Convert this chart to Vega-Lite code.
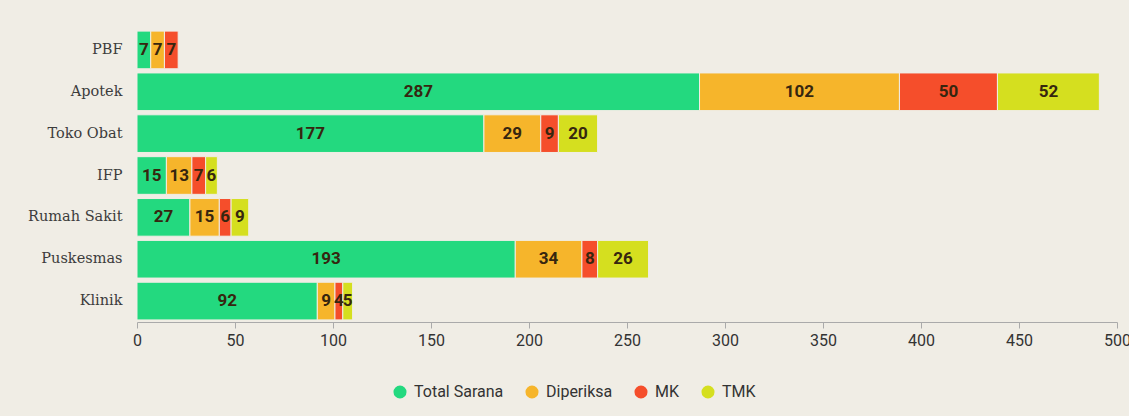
{
  "$schema": "https://vega.github.io/schema/vega-lite/v6.json",
  "width": 980,
  "height": 293,
  "autosize": "none",
  "padding": {"left": 137, "top": 29, "right": 12, "bottom": 94},
  "background": "#f0ede5",
  "config": {"view": {"stroke": null}},
  "data": {
    "values": [
      {"sarana": "PBF", "kategori": "Total Sarana", "ord": 1, "jumlah": 7},
      {"sarana": "PBF", "kategori": "Diperiksa", "ord": 2, "jumlah": 7},
      {"sarana": "PBF", "kategori": "MK", "ord": 3, "jumlah": 7},
      {"sarana": "Apotek", "kategori": "Total Sarana", "ord": 1, "jumlah": 287},
      {"sarana": "Apotek", "kategori": "Diperiksa", "ord": 2, "jumlah": 102},
      {"sarana": "Apotek", "kategori": "MK", "ord": 3, "jumlah": 50},
      {"sarana": "Apotek", "kategori": "TMK", "ord": 4, "jumlah": 52},
      {"sarana": "Toko Obat", "kategori": "Total Sarana", "ord": 1, "jumlah": 177},
      {"sarana": "Toko Obat", "kategori": "Diperiksa", "ord": 2, "jumlah": 29},
      {"sarana": "Toko Obat", "kategori": "MK", "ord": 3, "jumlah": 9},
      {"sarana": "Toko Obat", "kategori": "TMK", "ord": 4, "jumlah": 20},
      {"sarana": "IFP", "kategori": "Total Sarana", "ord": 1, "jumlah": 15},
      {"sarana": "IFP", "kategori": "Diperiksa", "ord": 2, "jumlah": 13},
      {"sarana": "IFP", "kategori": "MK", "ord": 3, "jumlah": 7},
      {"sarana": "IFP", "kategori": "TMK", "ord": 4, "jumlah": 6},
      {"sarana": "Rumah Sakit", "kategori": "Total Sarana", "ord": 1, "jumlah": 27},
      {"sarana": "Rumah Sakit", "kategori": "Diperiksa", "ord": 2, "jumlah": 15},
      {"sarana": "Rumah Sakit", "kategori": "MK", "ord": 3, "jumlah": 6},
      {"sarana": "Rumah Sakit", "kategori": "TMK", "ord": 4, "jumlah": 9},
      {"sarana": "Puskesmas", "kategori": "Total Sarana", "ord": 1, "jumlah": 193},
      {"sarana": "Puskesmas", "kategori": "Diperiksa", "ord": 2, "jumlah": 34},
      {"sarana": "Puskesmas", "kategori": "MK", "ord": 3, "jumlah": 8},
      {"sarana": "Puskesmas", "kategori": "TMK", "ord": 4, "jumlah": 26},
      {"sarana": "Klinik", "kategori": "Total Sarana", "ord": 1, "jumlah": 92},
      {"sarana": "Klinik", "kategori": "Diperiksa", "ord": 2, "jumlah": 9},
      {"sarana": "Klinik", "kategori": "MK", "ord": 3, "jumlah": 4},
      {"sarana": "Klinik", "kategori": "TMK", "ord": 4, "jumlah": 5}
    ]
  },
  "transform": [
    {"stack": "jumlah", "groupby": ["sarana"], "sort": [{"field": "ord", "order": "ascending"}], "as": ["x0", "x1"]},
    {"calculate": "(datum.x0 + datum.x1) / 2", "as": "xmid"}
  ],
  "encoding": {
    "y": {
      "field": "sarana",
      "type": "nominal",
      "sort": ["PBF", "Apotek", "Toko Obat", "IFP", "Rumah Sakit", "Puskesmas", "Klinik"],
      "scale": {"paddingInner": 0.1, "paddingOuter": 0.05},
      "axis": {
        "title": null,
        "domain": false,
        "ticks": false,
        "labelPadding": 15,
        "labelFont": "DejaVu Serif",
        "labelFontSize": 14.5,
        "labelColor": "#3c3c3c"
      }
    }
  },
  "layer": [
    {
      "mark": {"type": "bar", "stroke": "#f0ede5", "strokeWidth": 1},
      "encoding": {
        "x": {
          "field": "x0",
          "type": "quantitative",
          "scale": {"domain": [0, 500], "nice": false},
          "axis": {
            "title": null,
            "grid": false,
            "tickCount": 10,
            "labelFlush": false,
            "domainColor": "#aaaaaa",
            "tickColor": "#aaaaaa",
            "tickSize": 6,
            "labelFont": "Roboto",
            "labelFontSize": 16,
            "labelColor": "#333333",
            "labelPadding": 4
          }
        },
        "x2": {"field": "x1"},
        "color": {
          "field": "kategori",
          "type": "nominal",
          "scale": {
            "domain": ["Total Sarana", "Diperiksa", "MK", "TMK"],
            "range": ["#23d97f", "#f6b52b", "#f54e2b", "#d5df1f"]
          },
          "legend": {
            "title": null,
            "orient": "none",
            "direction": "horizontal",
            "legendX": 255,
            "legendY": 355,
            "symbolType": "circle",
            "symbolSize": 170,
            "symbolStrokeWidth": 0,
            "labelFont": "Roboto",
            "labelFontSize": 16,
            "labelColor": "#333333",
            "columnPadding": 20,
            "labelOffset": 6
          }
        }
      }
    },
    {
      "mark": {"type": "text", "font": "Roboto", "fontWeight": "bold", "fontSize": 17, "color": "#36260f", "baseline": "middle", "align": "center"},
      "encoding": {
        "x": {"field": "xmid", "type": "quantitative"},
        "text": {"field": "jumlah", "type": "quantitative"}
      }
    }
  ]
}
